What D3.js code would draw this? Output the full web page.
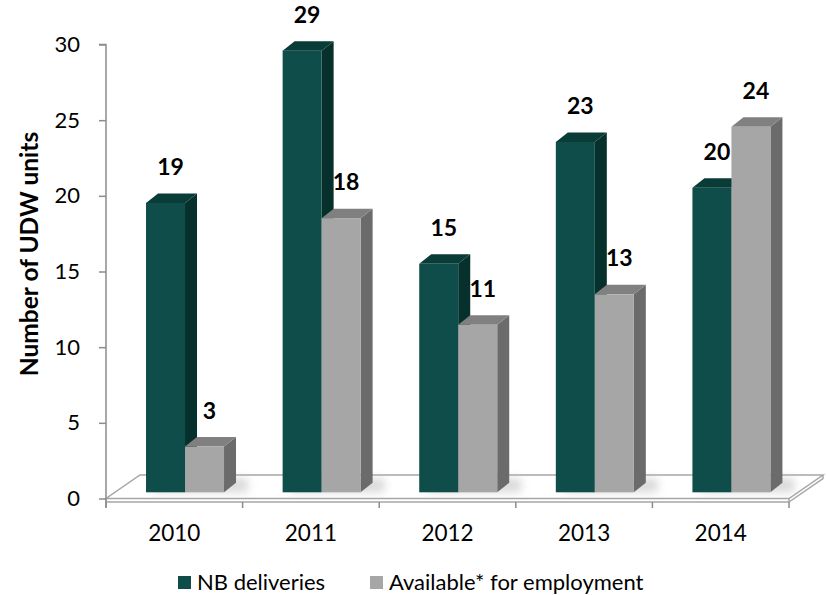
<!DOCTYPE html>
<html><head><meta charset="utf-8">
<script src="https://cdn.jsdelivr.net/npm/d3@7"></script>
<style>
html,body{margin:0;padding:0;background:#fff;}
svg{display:block;font-family:Lato,"Open Sans",sans-serif;}
</style></head>
<body>
<svg id="chart" width="827" height="595"></svg>
<script>
const years = ["2010","2011","2012","2013","2014"];
const seriesNames = ["NB deliveries","Available* for employment"];
const nbDeliveries = [19,29,15,23,20];
const available = [3,18,11,13,24];
const yTicks = [0,5,10,15,20,25,30];

const colors = {
  "NB deliveries": {front:"#0e4d49", top:"#0a3c37", side:"#06302b"},
  "Available* for employment": {front:"#a6a6a6", top:"#808080", side:"#6b6b6b"}
};

const svg = d3.select("#chart");
const axisLeftX = 106, axisRightX = 789;
const y = d3.scaleLinear().domain([0,30]).range([498.5,44.5]);
const yBar = d3.scaleLinear().domain([0,30]).range([492.3,35.4]);
const x0 = d3.scaleBand().domain(years).range([axisLeftX, axisRightX]).padding(0);
const x1 = d3.scaleBand().domain(seriesNames).range([0.293, 0.864]).padding(0);
const depthX = 12, depthY = -9.5;

const defs = svg.append("defs");
const f = defs.append("filter").attr("id","blur").attr("x","-50%").attr("y","-50%").attr("width","200%").attr("height","200%");
f.append("feGaussianBlur").attr("stdDeviation",4);

// floor
const floorFront = 498.5, floorBack = 475, floorDX = 34;
svg.append("path")
  .attr("d", `M${axisLeftX},${floorFront} L${axisRightX},${floorFront} L${axisRightX+floorDX},${floorBack} L${axisLeftX+floorDX},${floorBack} Z`)
  .attr("fill","#fff").attr("stroke","#a6a6a6").attr("stroke-width",1.5);
svg.append("path")
  .attr("d", `M${axisLeftX},${floorFront} L${axisLeftX},${floorFront+3.5} L${axisRightX},${floorFront+3.5} L${axisRightX},${floorFront} M${axisRightX},${floorFront+3.5} L${axisRightX+floorDX},${floorBack+3.5} L${axisRightX+floorDX},${floorBack}`)
  .attr("fill","none").attr("stroke","#a6a6a6").attr("stroke-width",1.5);

// y axis
const yAxis = d3.axisLeft(y).tickValues(yTicks).tickSize(7).tickPadding(19);
const gy = svg.append("g").attr("transform",`translate(${axisLeftX},0)`).call(yAxis);
gy.select(".domain").attr("stroke","#8c8c8c").attr("stroke-width",1.5).attr("d",`M-7,${y(30)}H0V${y(0)+9}`);
gy.selectAll(".tick line").attr("stroke","#8c8c8c").attr("stroke-width",1.5);
gy.selectAll(".tick text").attr("font-size",22).attr("fill","#000").attr("font-family","Lato");

// x axis
const xAxis = d3.axisBottom(x0).tickSize(0).tickPadding(23);
const gx = svg.append("g").attr("transform",`translate(0,${floorFront+3.5})`).call(xAxis);
gx.select(".domain").remove();
gx.selectAll(".tick text").attr("font-size",22.5).attr("fill","#000").attr("font-family","Lato");
const boundaries = years.map(d=>x0(d)).concat([axisRightX]);
gx.selectAll("line.bnd").data(boundaries).enter().append("line")
  .attr("x1",d=>d).attr("x2",d=>d).attr("y1",0).attr("y2",6)
  .attr("stroke","#8c8c8c").attr("stroke-width",1.5);

// bars
const data = [];
years.forEach((yr,i)=>{
  data.push({year:yr, series:seriesNames[0], value:nbDeliveries[i]});
  data.push({year:yr, series:seriesNames[1], value:available[i]});
});
const bw = x0.bandwidth();

// shadows
svg.append("g").selectAll("path").data(years).enter().append("path")
  .attr("d",yr=>{
    const xa = x0(yr)+bw*x1.range()[0]+6, xb = x0(yr)+bw*x1.range()[1]+depthX+12;
    return `M${xa},${yBar(0)} L${xb},${yBar(0)} L${xb},${yBar(0)-14} L${xa+10},${yBar(0)-14} Z`;
  })
  .attr("fill","#bbbbbb").attr("opacity",0.55).attr("filter","url(#blur)");

const bars = svg.append("g").selectAll("g").data(data).enter().append("g");
bars.each(function(d){
  const g = d3.select(this);
  const xl = x0(d.year) + bw*x1(d.series);
  const w = bw*x1.bandwidth();
  const yt = yBar(d.value), yb = yBar(0);
  const c = colors[d.series];
  g.append("path").attr("d",`M${xl+w},${yt} L${xl+w+depthX},${yt+depthY} L${xl+w+depthX},${yb+depthY} L${xl+w},${yb} Z`).attr("fill",c.side);
  g.append("path").attr("d",`M${xl},${yt} L${xl+depthX},${yt+depthY} L${xl+w+depthX},${yt+depthY} L${xl+w},${yt} Z`).attr("fill",c.top);
  g.append("rect").attr("x",xl).attr("y",yt).attr("width",w).attr("height",yb-yt).attr("fill",c.front);
});

// labels
svg.append("g").selectAll("text").data(data).enter().append("text")
  .attr("x",d=>x0(d.year)+bw*x1(d.series)+bw*x1.bandwidth()/2+5)
  .attr("y",d=>yBar(d.value)-28)
  .attr("text-anchor","middle").attr("font-weight","bold").attr("font-size",23)
  .attr("fill","#000").text(d=>d.value);

// y title
svg.append("text").attr("transform","translate(38,254) rotate(-90)")
  .attr("text-anchor","middle").attr("font-weight","bold").attr("font-size",24.5)
  .attr("fill","#000").text("Number of UDW units");

// legend
const legendX = [178, 370];
const lg = svg.append("g").selectAll("g").data(seriesNames).enter().append("g")
  .attr("transform",(d,i)=>`translate(${legendX[i]},576)`);
lg.append("rect").attr("width",13).attr("height",13).attr("fill",d=>colors[d].front);
lg.append("text").attr("x",19).attr("y",14).attr("font-size",22).attr("fill","#000").text(d=>d);
</script>
</body></html>
